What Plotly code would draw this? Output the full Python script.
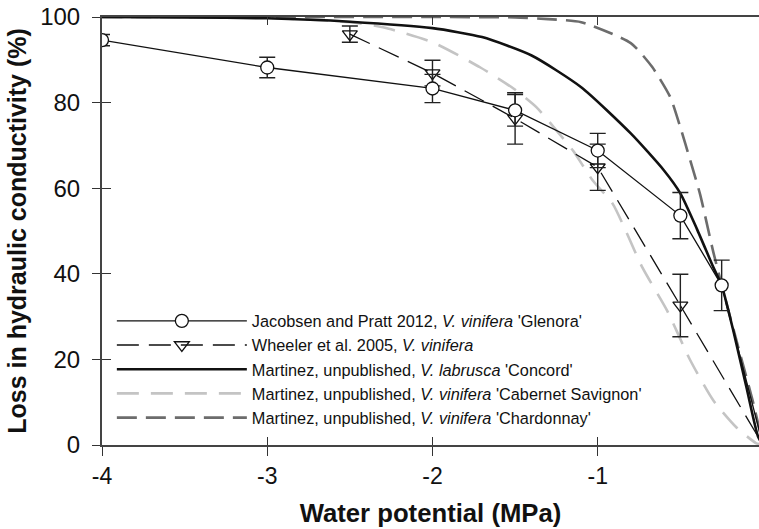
import plotly.graph_objects as go

# ---------------- data ----------------
# Jacobsen and Pratt 2012, V. vinifera 'Glenora'
jp_x = [-4, -3, -2, -1.5, -1, -0.5, -0.25]
jp_y = [94.6, 88.2, 83.3, 78.2, 68.8, 53.6, 37.3]
jp_err = [1.3, 2.4, 3.3, 3.7, 4.0, 5.4, 5.9]
jp_end_x = [-0.25, 0]
jp_end_y = [37.3, 0]

# Wheeler et al. 2005, V. vinifera
wh_x = [-2.5, -2, -1.5, -1, -0.5]
wh_y = [96.0, 86.9, 76.3, 64.9, 32.6]
wh_err = [1.9, 3.0, 6.0, 5.4, 7.3]
wh_end_x = [-0.5, 0]
wh_end_y = [32.6, 0]

# Martinez, unpublished, V. labrusca 'Concord'
co_x = [-4, -3.5, -3, -2.5, -2.0, -1.7, -1.4, -1.1, -0.8, -0.6, -0.5, -0.4, -0.3, -0.25, -0.18, -0.1, -0.03, 0]
co_y = [100, 99.9, 99.7, 98.9, 97.4, 95.3, 91.0, 83.6, 72.8, 64.2, 58.8, 50.5, 41.5, 37.3, 26.8, 13.5, 2.0, 0]

# Martinez, unpublished, V. vinifera 'Cabernet Savignon'
cs_x = [-4, -3.5, -3, -2.5, -2.3, -2.0, -1.71, -1.51, -1.37, -1.25, -1.15, -1.03, -0.91, -0.73, -0.58, -0.44, -0.3, -0.16, -0.04, 0]
cs_y = [100, 100, 99.8, 98.8, 97.6, 94.1, 88.2, 83.3, 78.9, 73.5, 68.8, 61.8, 56.4, 41.5, 31.4, 19.8, 10.4, 4.1, 0.4, 0]

# Martinez, unpublished, V. vinifera 'Chardonnay'
ch_x = [-4, -3, -2, -1.5, -1.3, -1.1, -0.8, -0.67, -0.56, -0.5, -0.44, -0.38, -0.3, -0.22, -0.14, -0.06, 0]
ch_y = [100, 100, 100, 99.9, 99.5, 98.8, 93.9, 88.3, 81.2, 74.2, 66.5, 58.5, 45.0, 33.0, 21.5, 10.0, 0]

x_ticks = [-4, -3, -2, -1, 0]
x_ticktext = ["-4", "-3", "-2", "-1", "0"]
y_ticks = [0, 20, 40, 60, 80, 100]

names = [
    "Jacobsen and Pratt 2012, <i>V. vinifera</i> 'Glenora'",
    "Wheeler et al. 2005, <i>V. vinifera</i>",
    "Martinez, unpublished, <i>V. labrusca</i> 'Concord'",
    "Martinez, unpublished, <i>V. vinifera</i> 'Cabernet Savignon'",
    "Martinez, unpublished, <i>V. vinifera</i> 'Chardonnay'",
]

FONT = "Liberation Sans, Arial, sans-serif"
X_RANGE = [-4, -0.024]
Y_RANGE = [0, 100]

fig = go.Figure()

# curves
fig.add_trace(go.Scatter(x=cs_x, y=cs_y, mode="lines", name=names[3], legendrank=4,
                         line=dict(color="#c4c4c4", width=2.6, dash="22px,12px", shape="spline", smoothing=0.6)))
fig.add_trace(go.Scatter(x=ch_x, y=ch_y, mode="lines", name=names[4], legendrank=5,
                         line=dict(color="#6c6c6c", width=2.6, dash="20px,9px", shape="spline", smoothing=0.6)))
fig.add_trace(go.Scatter(x=co_x, y=co_y, mode="lines", name=names[2], legendrank=3,
                         line=dict(color="#111111", width=2.6, shape="spline", smoothing=0.6)))

# Wheeler
fig.add_trace(go.Scatter(x=wh_end_x, y=wh_end_y, mode="lines", showlegend=False, hoverinfo="skip",
                         line=dict(color="#111111", width=1.3, dash="22px,10px")))
fig.add_trace(go.Scatter(x=wh_x, y=wh_y, mode="lines+markers", name=names[1], legendrank=2,
                         line=dict(color="#111111", width=1.3, dash="22px,10px"),
                         marker=dict(symbol="triangle-down-open", size=13, color="#111111", line=dict(width=1.3)),
                         error_y=dict(type="data", array=wh_err, visible=True, color="#222222", thickness=1.4, width=8)))

# Jacobsen
fig.add_trace(go.Scatter(x=jp_end_x, y=jp_end_y, mode="lines", showlegend=False, hoverinfo="skip",
                         line=dict(color="#111111", width=1.3)))
fig.add_trace(go.Scatter(x=jp_x, y=jp_y, mode="lines+markers", name=names[0], legendrank=1,
                         line=dict(color="#111111", width=1.3),
                         marker=dict(symbol="circle", size=13, color="white", line=dict(color="#111111", width=1.3)),
                         error_y=dict(type="data", array=jp_err, visible=True, color="#222222", thickness=1.4, width=8)))

# invisible trace to carry the overlay axes (crossing tick marks)
fig.add_trace(go.Scatter(x=co_x, y=co_y, xaxis="x2", yaxis="y2", mode="lines", opacity=0,
                         showlegend=False, hoverinfo="skip"))

fig.update_layout(
    width=759, height=529,
    margin=dict(l=102, r=0, t=17, b=84, autoexpand=False),
    paper_bgcolor="white", plot_bgcolor="white",
    font=dict(family=FONT, color="#111111"),
    showlegend=True,
    legend=dict(x=0.015, y=0.024, xanchor="left", yanchor="bottom", bgcolor="rgba(0,0,0,0)",
                font=dict(family=FONT, size=16.3, color="#111111"), itemwidth=130,
                traceorder="normal"),
    xaxis=dict(range=X_RANGE, tickvals=x_ticks, ticktext=x_ticktext, ticks="outside", ticklen=9,
               tickwidth=1.3, tickcolor="#333333", showline=True, linewidth=2, linecolor="#444444",
               mirror=True, showgrid=False, zeroline=False,
               tickfont=dict(family=FONT, size=23, color="#111111"),
               title=dict(text="<b>Water potential (MPa)</b>", font=dict(family=FONT, size=25.7, color="#111111"),
                          standoff=16)),
    xaxis2=dict(range=X_RANGE, overlaying="x", anchor="y", tickvals=x_ticks, ticks="inside", ticklen=8,
                tickwidth=1.3, tickcolor="#333333", mirror="ticks", showline=False, showgrid=False,
                zeroline=False, showticklabels=False),
    yaxis=dict(range=Y_RANGE, tickvals=y_ticks, ticks="outside", ticklen=8, tickwidth=1.3, tickcolor="#333333",
               showline=True, linewidth=2, linecolor="#444444", showgrid=False, zeroline=False,
               ticklabelstandoff=7,
               tickfont=dict(family=FONT, size=24, color="#111111"),
               title=dict(text="<b>Loss in hydraulic conductivity (%)</b>",
                          font=dict(family=FONT, size=25, color="#111111"), standoff=6)),
    yaxis2=dict(range=Y_RANGE, overlaying="y", anchor="x", tickvals=y_ticks, ticks="inside", ticklen=9,
                tickwidth=1.3, tickcolor="#333333", showline=False, showgrid=False, zeroline=False,
                showticklabels=False),
)

fig.write_html("out.html")
